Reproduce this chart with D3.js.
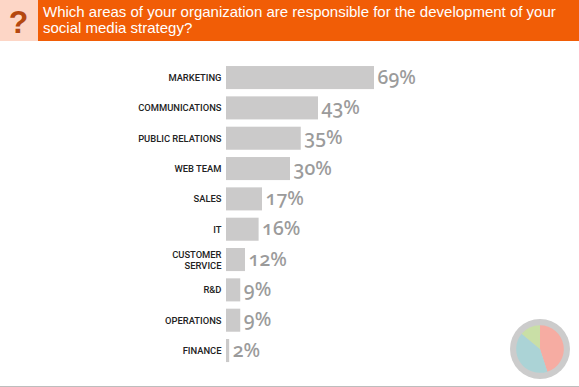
<!DOCTYPE html>
<html>
  <head>
    <title>Social media strategy</title>
    <meta charset='utf-8' />
    <script src="https://d3js.org/d3.v7.min.js"></script>
    <style>
    html, body { margin: 0; padding: 0; background: #fff; }
    svg { display: block; }
    .title { font-family: "Liberation Sans", sans-serif; font-size: 15px; fill: #fff; }
    .mark { font-family: "Liberation Sans", sans-serif; font-weight: bold; font-size: 32px; fill: #b5480f; }
    .cat { font-family: "Roboto", sans-serif; font-weight: 500; font-size: 9.4px; fill: #222; text-anchor: end; }
    .val { font-family: "Noto Sans", sans-serif; font-weight: 500; font-size: 19.5px; fill: #9b9b9b; font-variant-numeric: oldstyle-nums; }
    </style>
  </head>
  <body>
    <div id="chart"></div>
    <script>
    var categories = [["MARKETING"], ["COMMUNICATIONS"], ["PUBLIC RELATIONS"], ["WEB TEAM"], ["SALES"], ["IT"],
      ["CUSTOMER", "SERVICE"], ["R&D"], ["OPERATIONS"], ["FINANCE"]];
    var values = [69, 43, 35, 30, 17, 16, 12, 9, 9, 2];
    var titleLines = ["Which areas of your organization are responsible for the development of your",
      "social media strategy?"];
    var pieValues = [45, 41, 14];
    var pieColors = ["#f6aca2", "#abd3d6", "#c9dfa6"];

    var width = 579, height = 387;

    var svg = d3.select("#chart").append("svg")
      .attr("width", width)
      .attr("height", height);

    // header band
    svg.append("rect").attr("width", 38).attr("height", 41).attr("fill", "#fdd6c6");
    svg.append("rect").attr("x", 38).attr("width", width - 38).attr("height", 41).attr("fill", "#f15d06");
    svg.append("text").attr("class", "mark").attr("x", 18.5).attr("y", 33)
      .attr("text-anchor", "middle").text("?");
    svg.selectAll(".title").data(titleLines).enter().append("text")
      .attr("class", "title")
      .attr("x", 43)
      .attr("y", function(d, i) { return 17 + i * 16; })
      .text(function(d) { return d; });

    // the printed bars are not quite proportional below 17%, so the scale bends there
    var x = d3.scaleLinear().domain([0, 12, 17, 69]).range([226, 245, 262, 374]);
    var y = d3.scaleBand().domain(d3.range(values.length)).range([62.4, 365.7]).paddingInner(0.24).paddingOuter(0.12);

    var row = svg.selectAll(".row").data(values).enter().append("g").attr("class", "row");

    row.append("rect")
      .attr("x", x(0))
      .attr("y", function(d, i) { return y(i); })
      .attr("width", function(d) { return x(d) - x(0); })
      .attr("height", y.bandwidth())
      .attr("fill", "#cbcaca");

    row.append("text")
      .attr("class", "val")
      .attr("x", function(d) { return x(d) + 3.5; })
      .attr("y", function(d, i) { return y(i) + y.bandwidth() / 2 + 6; })
      .text(function(d) { return d + "%"; });

    row.each(function(d, i) {
      var lines = categories[i];
      d3.select(this).selectAll(".cat").data(lines).enter().append("text")
        .attr("class", "cat")
        .attr("x", 221.5)
        .attr("y", function(l, j) { return y(i) + y.bandwidth() / 2 + 3.5 + (j - (lines.length - 1) / 2) * 11; })
        .text(function(l) { return l; });
    });

    // small pie badge, bottom right
    var badge = svg.append("g").attr("transform", "translate(540,349)");
    badge.append("circle").attr("r", 30).attr("fill", "#cccccc");
    var pie = d3.pie().sort(null);
    var arc = d3.arc().innerRadius(0).outerRadius(23.8);
    badge.selectAll("path").data(pie(pieValues)).enter().append("path")
      .attr("d", arc)
      .attr("fill", function(d, i) { return pieColors[i]; });

    svg.append("rect").attr("y", 386).attr("width", width).attr("height", 1).attr("fill", "#bdbdbd");
    </script>
  </body>
</html>
